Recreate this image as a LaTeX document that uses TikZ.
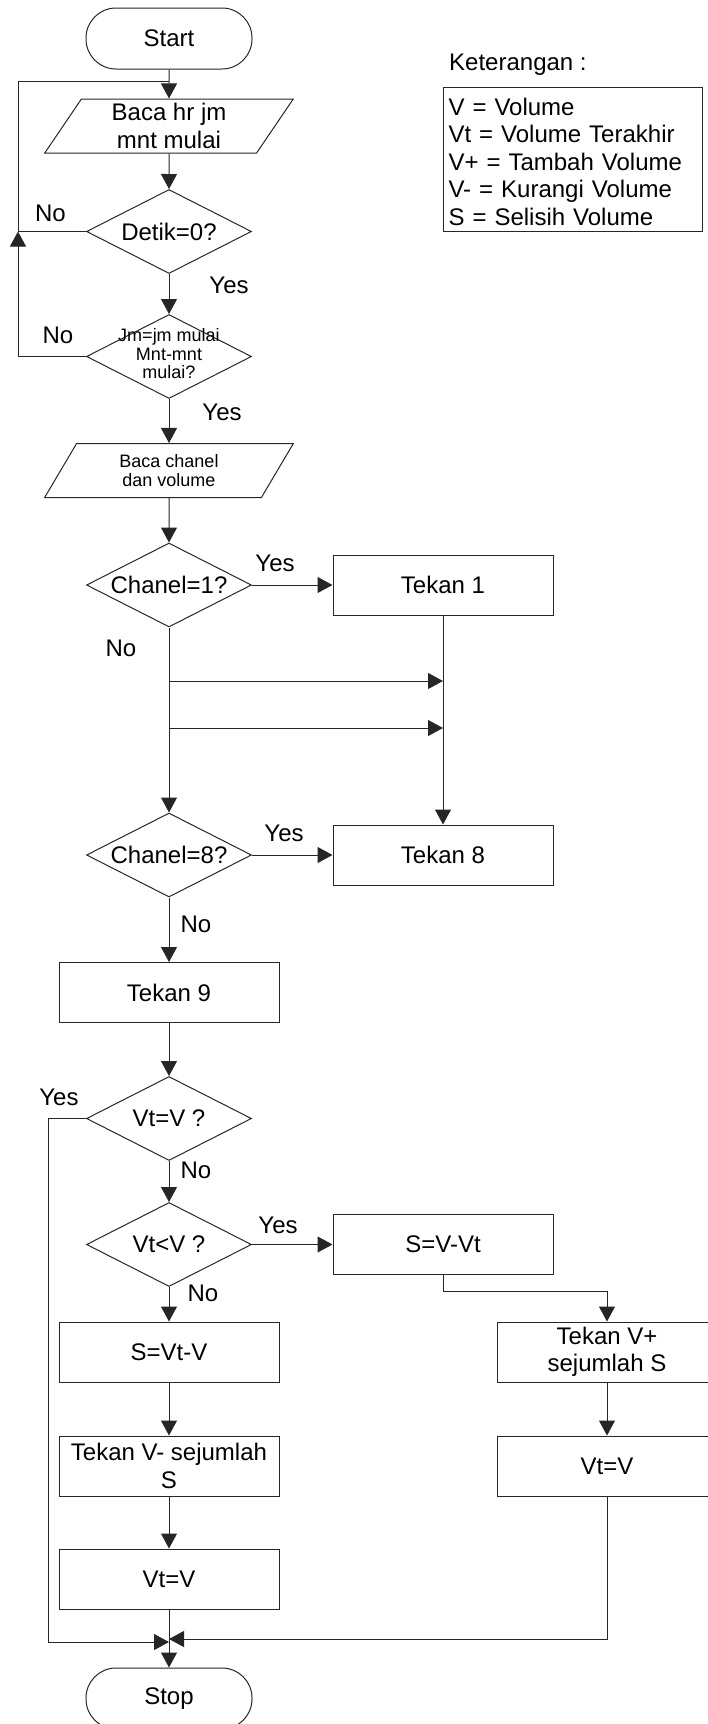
\documentclass[tikz,border=0pt]{standalone}
\usepackage{fontspec}
\setmainfont{Liberation Sans}
\usetikzlibrary{shapes.geometric, arrows.meta}

% text of a decision box, kept out of the diamond's size
\newcommand{\dtext}[1]{\makebox[0pt]{#1}}

\begin{document}
\begin{tikzpicture}[x=1pt, y=-1pt,
  every node/.style={font=\fontsize{24}{27.5}\selectfont, text=black},
  line/.style={draw=black!85, line width=1pt},
  arr/.style={line, -{Triangle[length=15pt,width=16pt]}},
  terminal/.style={line, rectangle, rounded corners=30pt, minimum width=166pt, minimum height=61pt, inner sep=0pt},
  io/.style={line, trapezium, trapezium left angle=62, trapezium right angle=118, trapezium stretches=true, minimum width=249pt, minimum height=54pt, inner sep=0pt, align=center},
  decision/.style={line, diamond, minimum width=165pt, minimum height=84pt, inner sep=0pt},
  process/.style={line, rectangle, minimum width=220pt, minimum height=60pt, inner sep=0pt, align=center},
  lbl/.style={inner sep=0pt},
]
\useasboundingbox (0,0) rectangle (707,1724);

% main column
\node[terminal] (start) at (169,38.5) {Start};
\node[io] (read1) at (169,126) {Baca hr jm\\mnt mulai};
\node[decision] (d1) at (169,231.5) {\dtext{Detik=0?}};
\node[decision] (d2) at (169,356.5) {\dtext{\fontsize{18}{18.5}\selectfont\begin{tabular}{@{}c@{}}Jm=jm mulai\\Mnt-mnt\\mulai?\end{tabular}}};
\node[io, font=\fontsize{18}{19}\selectfont] (read2) at (169,470.5) {Baca chanel\\dan volume};
\node[decision] (c1) at (169,585) {\dtext{Chanel=1?}};
\node[process] (t1) at (443,585) {Tekan 1};
\node[decision] (c8) at (169,855) {\dtext{Chanel=8?}};
\node[process] (t8) at (443,855) {Tekan 8};
\node[process] (t9) at (169,992.5) {Tekan 9};
\node[decision] (v1) at (169,1118.5) {\dtext{Vt=V ?}};
\node[decision] (v2) at (169,1244.5) {\dtext{Vt<V ?}};
\node[process] (s1) at (443,1244.5) {S=V-Vt};
\node[process] (s2) at (169,1352) {S=Vt-V};
\node[process] (m1) at (169,1466) {Tekan V- sejumlah\\S};
\node[process] (e1) at (169,1579) {Vt=V};
\node[process] (p1) at (607,1352) {Tekan V+\\sejumlah S};
\node[process] (e2) at (607,1466) {Vt=V};
\node[terminal] (stop) at (169,1698.5) {Stop};

% legend
\node[anchor=west, inner sep=0pt] (kettitle) at (449,65) {Keterangan :};
\node[line, anchor=north west, minimum width=259pt, minimum height=144pt, inner xsep=5pt, align=left, text width=249pt] (legend) at (443,87) {\rule{0pt}{22pt}V = Volume\\Vt = Volume Terakhir\\V+ = Tambah Volume\\V- = Kurangi Volume\\S = Selisih Volume};

% branch labels
\node[lbl] (no1) at (50.5,213) {No};
\node[lbl] (yes1) at (229,285) {Yes};
\node[lbl] (no2) at (58,335) {No};
\node[lbl] (yes2) at (222,412) {Yes};
\node[lbl] (yes3) at (275,563) {Yes};
\node[lbl] (no3) at (121,648) {No};
\node[lbl] (yes4) at (284,833) {Yes};
\node[lbl] (no4) at (196,924) {No};
\node[lbl] (yes5) at (59,1097) {Yes};
\node[lbl] (no5) at (196,1170) {No};
\node[lbl] (yes6) at (278,1225) {Yes};
\node[lbl] (no6) at (203,1293) {No};

% junction points
\coordinate (loopTop) at (169,81);
\coordinate (loopL) at (18,231.5);
\coordinate (b1L) at (169,681);
\coordinate (b1R) at (443,681);
\coordinate (b2L) at (169,728);
\coordinate (b2R) at (443,728);
\coordinate (yesL) at (48,1642);
\coordinate (joinL) at (169,1642);
\coordinate (joinR) at (169,1639);

% connectors
\draw[arr] (start) -- (read1);
\draw[line] (d1.west) -- (loopL) |- (loopTop);
\draw[arr] (d2.west) -| (loopL);
\draw[arr] (read1) -- (d1);
\draw[arr] (d1) -- (d2);
\draw[arr] (d2) -- (read2);
\draw[arr] (read2) -- (c1);
\draw[arr] (c1) -- (t1);
\draw[arr] (c1) -- (c8);
\draw[arr] (b1L) -- (b1R);
\draw[arr] (b2L) -- (b2R);
\draw[arr] (t1) -- (t8);
\draw[arr] (c8) -- (t8);
\draw[arr] (c8) -- (t9);
\draw[arr] (t9) -- (v1);
\draw[arr] (v1) -- (v2);
\draw[arr] (v2) -- (s1);
\draw[arr] (v2) -- (s2);
\draw[arr] (s2) -- (m1);
\draw[arr] (m1) -- (e1);
\draw[arr] (e1) -- (stop);
\draw[arr] (s1.south) -- ++(0,16) -| (p1.north);
\draw[arr] (p1) -- (e2);
\draw[arr] (v1.west) -| (yesL) -- (joinL);
\draw[arr] (e2.south) |- (joinR);
\end{tikzpicture}
\end{document}
